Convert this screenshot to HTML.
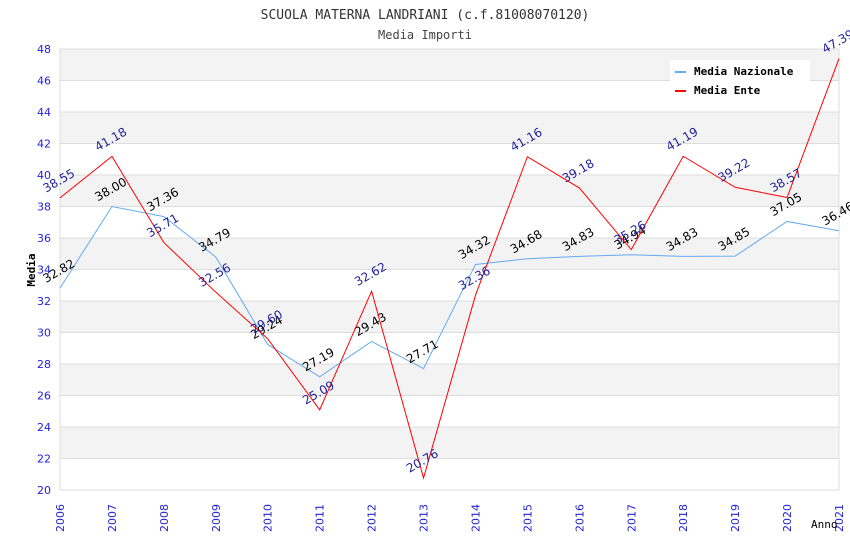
<!DOCTYPE html>
<html><head><meta charset="utf-8"><style>
body{margin:0;background:#fff}
svg text{font-family:"DejaVu Sans Mono","Liberation Mono",monospace}
svg text.sans{font-family:"DejaVu Sans","Liberation Sans",sans-serif}
</style></head><body>
<svg id="c" width="850" height="550" xmlns="http://www.w3.org/2000/svg"></svg>
<script>
const years=[2006,2007,2008,2009,2010,2011,2012,2013,2014,2015,2016,2017,2018,2019,2020,2021];
const nazionale=[32.82,38.00,37.36,34.79,29.24,27.19,29.43,27.71,34.32,34.68,34.83,34.94,34.83,34.85,37.05,36.46];
const ente=[38.55,41.18,35.71,32.56,29.60,25.09,32.62,20.76,32.36,41.16,39.18,35.26,41.19,39.22,38.57,47.39];
const yTicks=[20,22,24,26,28,30,32,34,36,38,40,42,44,46,48];
const NS='http://www.w3.org/2000/svg';
const svg=document.getElementById('c');
const L=60,R=839,T=49,B=490;
const x=i=>L+(R-L)*i/(years.length-1);
const y=v=>B-(B-T)*(v-20)/28;
function mk(t,a,p){const e=document.createElementNS(NS,t);for(const k in a)e.setAttribute(k,a[k]);(p||svg).appendChild(e);return e;}
for(let i=0;i<yTicks.length-1;i++){const v=yTicks[i];
 if(v%4===2){const r=mk('rect',{x:L,y:y(v+2),width:R-L,height:y(v)-y(v+2),fill:'#f3f3f3'});
 
 }}
yTicks.forEach(v=>{const l=mk('line',{x1:L,x2:R,y1:y(v),y2:y(v),stroke:'#dddddd'});
 
 
 const t=mk('text',{x:L-9,y:y(v)+4,'text-anchor':'end','font-size':11,fill:'#2222dd',class:'sans'});t.textContent=v;
 
 });
mk('line',{x1:L,x2:L,y1:T,y2:B,stroke:'#dddddd'});
mk('line',{x1:R,x2:R,y1:T,y2:B,stroke:'#dddddd'});
years.forEach((yr,i)=>{const t=mk('text',{transform:`translate(${x(i)+4},${B+42}) rotate(-90)`,'font-size':11,fill:'#2222dd',class:'sans'});t.textContent=yr;
 
 });
function series(vals,color,lc,name){
 const p=mk('polyline',{points:vals.map((v,i)=>x(i)+','+y(v)).join(' '),fill:'none',stroke:color,'stroke-width':1});
 
 
 vals.forEach((v,i)=>{const t=mk('text',{transform:`translate(${x(i)-14},${y(v)-5}) rotate(-30)`,'font-size':12,fill:lc,class:'sans'});t.textContent=v.toFixed(2);
 
 });
}
series(nazionale,'#66aaee','#000','line-media-nazionale');
series(ente,'#ff0000','#222299','line-media-ente');
const title=mk('text',{x:425,y:19,'text-anchor':'middle','font-size':13,fill:'#333'});title.textContent='SCUOLA MATERNA LANDRIANI (c.f.81008070120)';


const sub=mk('text',{x:425,y:39,'text-anchor':'middle','font-size':12,fill:'#444'});sub.textContent='Media Importi';


const yt=mk('text',{transform:'translate(35,270) rotate(-90)','text-anchor':'middle','font-size':11,'font-weight':'bold',fill:'#000'});yt.textContent='Media';


const xt=mk('text',{x:811,y:528,'font-size':11,fill:'#000'});xt.textContent='Anno';


const lg=mk('g',{});


mk('rect',{x:670,y:60,width:140,height:42,fill:'#fff'},lg);
[['Media Nazionale','#66aaee',69],['Media Ente','#ff0000',88]].forEach(([n,c,yy])=>{
 mk('line',{x1:675,x2:686,y1:yy+3,y2:yy+3,stroke:c,'stroke-width':2},lg);
 const t=mk('text',{x:694,y:yy+6,'font-size':11,'font-weight':'bold',fill:'#000'},lg);t.textContent=n;
 
 });
</script>
</body></html>
